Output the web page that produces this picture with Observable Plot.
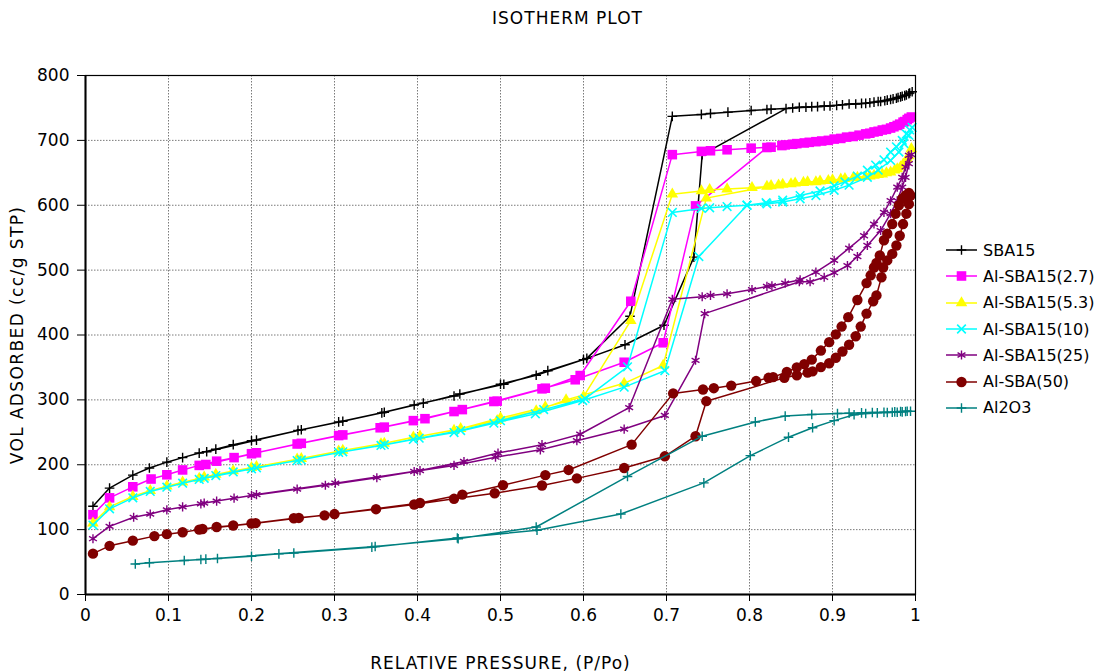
<!DOCTYPE html>
<html><head><meta charset="utf-8">
<script src="https://cdn.jsdelivr.net/npm/d3@7"></script>
<script src="https://cdn.jsdelivr.net/npm/@observablehq/plot@0.6"></script>
<style>
body{margin:0;background:#fff;}
#wrap{position:relative;width:1105px;height:672px;font-family:"DejaVu Sans",sans-serif;color:#000;}
#title{height:36px;text-align:center;font-size:17px;letter-spacing:1px;line-height:36px;padding-left:30px;box-sizing:border-box;}
#legend{position:absolute;left:945px;top:237px;font-size:16px;}
.row{display:flex;align-items:center;height:26.3px;white-space:nowrap;}
.row svg{margin-right:4px;}
</style></head><body>
<div id="wrap"><div id="title">ISOTHERM PLOT</div><div id="chart"></div><div id="legend"></div></div>
<script>
// ---------- data: [relative pressure P/Po, volume adsorbed cc/g STP], path order (adsorption then desorption)
const seriesNames = ["SBA15","Al-SBA15(2.7)","Al-SBA15(5.3)","Al-SBA15(10)","Al-SBA15(25)","Al-SBA(50)","Al2O3"];
const seriesColors = ["#000000","#FF00FF","#FFFF00","#00FFFF","#800080","#800000","#008080"];
const xTicks = [0,0.1,0.2,0.3,0.4,0.5,0.6,0.7,0.8,0.9,1];
const yTicks = [0,100,200,300,400,500,600,700,800];

const sba15 = [[0.009,136],[0.029,164],[0.057,184],[0.077,195],[0.098,204],[0.117,211],[0.137,218],[0.157,224],[0.178,231],[0.2,237],[0.256,253],[0.305,266],[0.357,280],[0.396,292],[0.444,306],[0.5,324],[0.543,338],[0.6,362],[0.65,385],[0.697,415],[0.733,520],[0.743,678],[0.844,749],[0.86,751],[0.875,752],[0.89,753],[0.905,754],[0.92,756],[0.935,757],[0.945,758],[0.955,760],[0.963,761],[0.97,763],[0.977,765],[0.982,767],[0.987,769],[0.992,772],[0.996,775],
 [0.993,773],[0.989,770],[0.984,768],[0.979,766],[0.973,764],[0.966,762],[0.958,760],[0.95,759],[0.94,757],[0.928,756],[0.912,755],[0.897,753],[0.882,752],[0.868,751],[0.852,750],[0.826,748],[0.821,747.5],[0.802,746],[0.774,743.5],[0.753,741.5],[0.742,740],[0.707,737],[0.656,429],[0.604,364],[0.557,345],[0.504,324],[0.451,309],[0.407,295],[0.36,281],[0.31,267],[0.26,254],[0.206,238],[0.146,220]];

const alSba27 = [[0.009,123],[0.029,149],[0.057,166],[0.079,178],[0.098,184.5],[0.117,192],[0.137,199],[0.158,205.5],[0.179,211],[0.2,217],[0.255,232],[0.305,245],[0.355,257],[0.395,268],[0.444,282],[0.492,297.5],[0.55,317],[0.59,331],[0.649,358],[0.696,388],[0.735,599],[0.821,689],[0.839,692],[0.852,694],[0.866,696],[0.88,698],[0.895,700],[0.91,703],[0.925,706],[0.94,710],[0.95,713],[0.96,716],[0.97,719],[0.978,723],[0.985,728],[0.99,732],[0.995,736],
 [0.992,734],[0.987,729],[0.981,725],[0.974,721],[0.965,717],[0.955,714],[0.945,711],[0.932,708],[0.917,705],[0.902,702],[0.887,699],[0.872,697],[0.857,695],[0.843,693],[0.826,689.5],[0.802,688],[0.773,685.5],[0.753,684],[0.742,683],[0.707,678],[0.657,452],[0.596,337.5],[0.554,318],[0.496,298],[0.454,285],[0.409,271],[0.36,258],[0.31,246],[0.26,233],[0.206,218.4],[0.145,200.4]];

const alSba53 = [[0.009,110],[0.029,135],[0.057,151],[0.078,160],[0.098,167],[0.117,173],[0.137,179],[0.157,185],[0.178,190.5],[0.2,195.5],[0.255,208.5],[0.305,221],[0.356,232],[0.395,242.5],[0.444,253],[0.496,268],[0.543,283],[0.579,300],[0.649,325.5],[0.696,353],[0.748,611],[0.826,630],[0.84,632],[0.855,634],[0.87,636],[0.885,637],[0.9,639],[0.915,641],[0.93,643],[0.945,645],[0.955,647],[0.965,650],[0.975,654],[0.982,659],[0.988,667],[0.992,676],[0.995,687],
 [0.99,672],[0.985,663],[0.978,656],[0.97,651],[0.96,648],[0.95,646],[0.94,644],[0.925,642],[0.91,640],[0.895,638],[0.88,636],[0.865,635],[0.85,633],[0.835,631],[0.821,629],[0.803,627],[0.773,625],[0.752,624],[0.742,622],[0.707,617],[0.657,422],[0.6,305],[0.554,289],[0.5,272],[0.452,255.5],[0.403,244],[0.36,233],[0.31,222],[0.26,209.5],[0.206,197],[0.143,181]];

const alSba10 = [[0.009,107],[0.029,132],[0.057,149],[0.078,158.8],[0.098,165.4],[0.117,171.6],[0.137,177.3],[0.157,183.4],[0.178,189],[0.2,193.7],[0.255,206.5],[0.305,219],[0.356,229.7],[0.395,239],[0.444,249.7],[0.492,264],[0.542,278.5],[0.599,299],[0.649,319.6],[0.698,345],[0.739,521],[0.797,600],[0.821,602],[0.84,605],[0.861,610],[0.88,615],[0.902,623],[0.92,631],[0.942,643],[0.955,654],[0.97,669],[0.98,682],[0.986,695],[0.992,708],[0.996,720],
 [0.993,716],[0.989,710],[0.984,700],[0.977,690],[0.97,682],[0.962,670],[0.952,662],[0.942,654],[0.93,645],[0.915,636],[0.902,630],[0.885,622],[0.861,615],[0.84,608],[0.82,604],[0.797,600],[0.773,598],[0.752,596],[0.742,595],[0.707,589],[0.653,351],[0.602,302],[0.552,285],[0.5,268],[0.452,252.7],[0.402,241],[0.36,231],[0.31,220],[0.26,207.5],[0.206,195.3],[0.143,179]];

const alSba25 = [[0.009,86],[0.029,105],[0.058,119],[0.078,124],[0.098,130.5],[0.117,135],[0.139,139.7],[0.158,144],[0.179,148.5],[0.2,152.6],[0.255,162.4],[0.289,168.5],[0.351,180],[0.396,189.6],[0.444,199],[0.494,211.6],[0.548,223],[0.592,237],[0.649,255],[0.698,276],[0.735,361],[0.746,433],[0.86,482],[0.873,482],[0.89,489],[0.902,496],[0.918,507],[0.93,521],[0.942,538],[0.958,561],[0.97,587],[0.978,607],[0.984,628],[0.988,643],[0.992,664],[0.995,678],
 [0.992,677],[0.988,659],[0.984,643],[0.978,628],[0.97,607],[0.962,589],[0.95,571],[0.938,553],[0.92,534],[0.902,515],[0.88,497],[0.861,485],[0.843,480],[0.827,476],[0.821,475],[0.803,470],[0.773,463.5],[0.753,461],[0.743,459],[0.707,455],[0.655,288],[0.596,247],[0.55,231],[0.497,218],[0.456,205],[0.403,191],[0.301,171.6],[0.206,154],[0.143,141]];

const alSba50 = [[0.009,63],[0.029,75],[0.057,83],[0.083,90],[0.098,93],[0.117,96],[0.137,100],[0.158,104],[0.178,106.4],[0.2,109.4],[0.251,117.6],[0.288,122],[0.35,131.5],[0.396,138.7],[0.444,147.5],[0.493,156],[0.55,168],[0.592,179],[0.649,195],[0.698,213],[0.735,244],[0.748,298],[0.842,334],[0.857,338],[0.87,342],[0.876,344],[0.886,350.5],[0.896,356.5],[0.904,365],[0.912,374.6],[0.92,385],[0.928,398],[0.934,413],[0.941,433],[0.949,452],[0.953,461],[0.959,489],[0.961,504],[0.966,515],[0.972,525],[0.977,538],[0.981,553],[0.985,571],[0.989,587],[0.992,602],[0.994,615],
 [0.992,619],[0.988,615],[0.984,610],[0.98,600],[0.976,587],[0.972,571],[0.966,556],[0.962,546],[0.957,522.5],[0.953,511],[0.95,504],[0.946,492],[0.941,480],[0.93,454],[0.919,427.5],[0.911,413],[0.904,401],[0.896,389],[0.886,376],[0.875,362],[0.866,355],[0.857,350],[0.845,343],[0.8285,335],[0.823,334],[0.808,329],[0.778,322],[0.757,318],[0.744,316],[0.708,310],[0.658,231],[0.582,192],[0.554,184],[0.503,168.5],[0.454,154],[0.403,141],[0.3,124],[0.257,118],[0.205,110],[0.141,101]];

const al2o3 = [[0.06,47],[0.077,49],[0.119,52.4],[0.139,54],[0.159,55.5],[0.2,59],[0.233,62.7],[0.251,64],[0.345,73],[0.448,87],[0.544,99],[0.645,124],[0.745,172],[0.801,214],[0.847,242.5],[0.876,257],[0.902,268],[0.926,277],[0.94,279],[0.954,280],[0.966,280.5],[0.972,281],[0.978,281],[0.984,281.5],[0.988,282],[0.994,282.5],
 [0.99,282.5],[0.982,282],[0.975,281.5],[0.962,281],[0.948,280.5],[0.935,280],[0.92,279.5],[0.906,279],[0.875,277.5],[0.843,275],[0.807,266],[0.743,244],[0.653,182],[0.543,104],[0.449,86],[0.349,74],[0.145,54.5]];

const seriesData = [sba15, alSba27, alSba53, alSba10, alSba25, alSba50, al2o3];

// ---------- styles
const markerStyle = [
  {symbol:"plus", r:3.2, fill:"none", stroke:true, sw:1.4},
  {symbol:"square", r:5.4, fill:true, stroke:false},
  {symbol:"triangle", r:4.3, fill:true, stroke:false},
  {symbol:"times", r:4, fill:"none", stroke:true, sw:1.6},
  {symbol:"asterisk", r:4.3, fill:"none", stroke:true, sw:1.4},
  {symbol:"circle", r:5.2, fill:true, stroke:false},
  {symbol:"plus", r:3.2, fill:"none", stroke:true, sw:1.4}
];
const d3Sym = {plus:d3.symbolPlus, square:d3.symbolSquare, triangle:d3.symbolTriangle, times:d3.symbolTimes, asterisk:d3.symbolAsterisk, circle:d3.symbolCircle};

const rows = [];
seriesData.forEach((arr, s) => arr.forEach(([P, V], i) => rows.push({series: seriesNames[s], i, P, V})));

const marks = [
  Plot.gridX(xTicks, {stroke:"#7a7a7a", strokeOpacity:1, strokeDasharray:"1.5,1.5"}),
  Plot.gridY(yTicks, {stroke:"#7a7a7a", strokeOpacity:1, strokeDasharray:"1.5,1.5"})
];
seriesNames.forEach((name, s) => {
  const data = rows.filter(d => d.series === name);
  const c = seriesColors[s], m = markerStyle[s];
  marks.push(Plot.line(data, {x:"P", y:"V", stroke:c, strokeWidth:1.5, curve:"linear"}));
  marks.push(Plot.dot(data, {x:"P", y:"V", symbol:m.symbol, r:m.r,
    fill: m.fill === true ? c : "none",
    stroke: m.stroke ? c : "none",
    strokeWidth: m.sw || 0}));
});
marks.push(Plot.frame({stroke:"black", strokeWidth:1.2}));
marks.push(Plot.ruleX([0], {stroke:"black", strokeWidth:2}));
marks.push(Plot.ruleY([0], {stroke:"black", strokeWidth:2}));
marks.push(Plot.axisX(xTicks, {tickFormat:d => String(d), tickSize:7, tickPadding:7, fontSize:17,
  label:"RELATIVE PRESSURE, (P/Po)", labelAnchor:"center", labelOffset:74, labelArrow:"none"}));
marks.push(Plot.axisY(yTicks, {tickFormat:d => String(d), tickSize:8, tickPadding:8, fontSize:17,
  label:"VOL ADSORBED (cc/g STP)", labelAnchor:"center", labelOffset:75, labelArrow:"none"}));

const chart = Plot.plot({
  width:1105, height:636,
  marginLeft:85, marginRight:190, marginTop:39, marginBottom:78,
  style:{fontFamily:"DejaVu Sans, sans-serif", fontSize:"17px", color:"black", background:"white", overflow:"visible"},
  x:{domain:[0,1]},
  y:{domain:[0,800]},
  marks
});
document.getElementById("chart").appendChild(chart);
// widen the axis titles to match the reference lettering
d3.select(chart).selectAll('[aria-label="x-axis label"] text').style("letter-spacing", "1px");
d3.select(chart).selectAll('[aria-label="y-axis label"] text').style("letter-spacing", "1.4px");

// ---------- legend
const legend = document.getElementById("legend");
seriesNames.forEach((name, s) => {
  const c = seriesColors[s], m = markerStyle[s];
  const row = document.createElement("div"); row.className = "row";
  const path = d3.symbol(d3Sym[m.symbol], Math.PI * m.r * m.r)();
  row.innerHTML = `<svg width="34" height="16" viewBox="0 0 34 16">
    <line x1="1" x2="32" y1="8" y2="8" stroke="${c}" stroke-width="1.5"/>
    <path d="${path}" transform="translate(16.5,8)" fill="${m.fill===true?c:"none"}" stroke="${m.stroke?c:"none"}" stroke-width="${m.sw||0}"/>
  </svg><span>${name}</span>`;
  legend.appendChild(row);
});
</script>
</body></html>
